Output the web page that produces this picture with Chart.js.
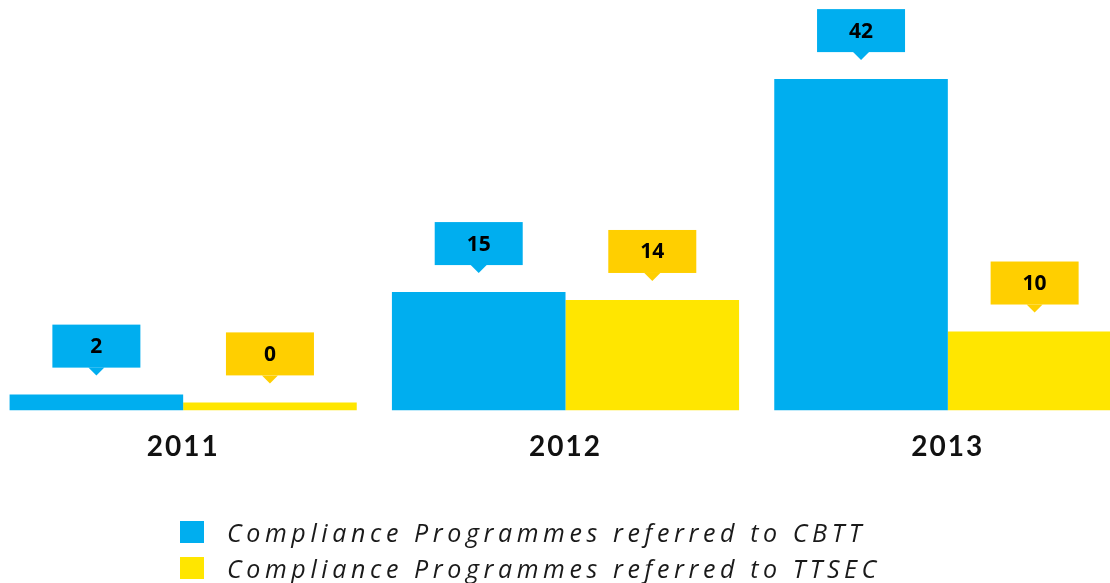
<!DOCTYPE html>
<html>
<head>
<meta charset="utf-8">
<script src="https://cdn.jsdelivr.net/npm/chart.js@4.4.1/dist/chart.umd.min.js"></script>
<style>
  html, body { margin: 0; padding: 0; background: #fff; overflow: hidden; }
  body { width: 1110px; height: 583px; position: relative; }
  #wrap { position: absolute; left: -8px; top: 0; width: 1147px; height: 583px; }
  #legend { position: absolute; left: 180px; top: 514px; font-family: "Open Sans", sans-serif;
            font-style: italic; font-weight: 400; font-size: 25px; letter-spacing: 4.6px; color: #1a1a1a; }
  #legend .item { display: flex; align-items: center; height: 36px; white-space: nowrap; }
  #legend .box { width: 24px; height: 22px; margin-right: 23px; flex: none; }
</style>
</head>
<body>
<div id="wrap"><canvas id="chart"></canvas></div>
<div id="legend"></div>
<script>
const years = ['2011', '2012', '2013'];
const cbtt = [2, 15, 42];
const ttsec = [0, 14, 10];
const seriesNames = ['Compliance Programmes referred to CBTT', 'Compliance Programmes referred to TTSEC'];
const barColors = ['#00AEEF', '#FFE600'];
const calloutColors = ['#00AEEF', '#FFCF00'];

// callout boxes with a little pointer above every bar
const callouts = {
    id: 'callouts',
    beforeDraw(chart) {
        chart.ctx.letterSpacing = '2px';
    },
    afterDatasetsDraw(chart) {
        const ctx = chart.ctx;
        ctx.save();
        ctx.letterSpacing = '0px';
        chart.data.datasets.forEach(function (ds, di) {
            chart.getDatasetMeta(di).data.forEach(function (bar, i) {
                const tip = bar.y - 19;
                const w = 88, h = 43;
                const bottom = tip - 8;
                ctx.fillStyle = calloutColors[di];
                ctx.fillRect(bar.x - w / 2, bottom - h, w, h);
                ctx.beginPath();
                ctx.moveTo(bar.x - 8, bottom);
                ctx.lineTo(bar.x + 8, bottom);
                ctx.lineTo(bar.x, tip);
                ctx.closePath();
                ctx.fill();
                ctx.fillStyle = '#000';
                ctx.font = 'bold 21px "Open Sans", sans-serif';
                ctx.textAlign = 'center';
                ctx.textBaseline = 'middle';
                ctx.fillText(String(ds.data[i]), bar.x, bottom - h / 2 + 1);
            });
        });
        ctx.restore();
    },
    afterDraw(chart) {
        chart.ctx.letterSpacing = '0px';
    }
};

const chart = new Chart(document.getElementById('chart'), {
    type: 'bar',
    data: {
        labels: years,
        datasets: [
            { label: seriesNames[0], data: cbtt, backgroundColor: barColors[0] },
            { label: seriesNames[1], data: ttsec, backgroundColor: barColors[1] }
        ]
    },
    options: {
        responsive: true,
        maintainAspectRatio: false,
        animation: false,
        layout: { padding: { top: 16, bottom: 99, left: 0, right: 0 } },
        datasets: {
            bar: { categoryPercentage: 0.908, barPercentage: 1, minBarLength: 8, borderWidth: 0 }
        },
        scales: {
            x: {
                grid: { display: false, drawTicks: false },
                border: { display: false },
                ticks: { color: '#111', padding: 20, font: { family: 'Lato', weight: 'bold', size: 28 } }
            },
            y: { display: false, min: 0, max: 50 }
        },
        plugins: {
            legend: { display: false },
            tooltip: { enabled: false }
        }
    },
    plugins: [callouts]
});

// legend under the chart, built from the datasets
const legendEl = document.getElementById('legend');
chart.data.datasets.forEach(function (ds) {
    const item = document.createElement('div');
    item.className = 'item';
    const box = document.createElement('span');
    box.className = 'box';
    box.style.background = ds.backgroundColor;
    const txt = document.createElement('span');
    txt.textContent = ds.label;
    item.appendChild(box);
    item.appendChild(txt);
    legendEl.appendChild(item);
});
</script>
</body>
</html>
